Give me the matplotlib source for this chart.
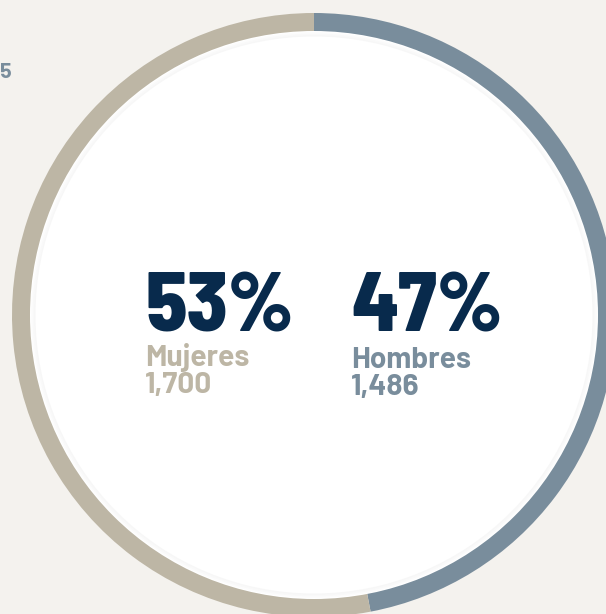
import matplotlib
matplotlib.use("Agg")
import matplotlib.pyplot as plt
from matplotlib.patches import Circle

_BG     = "#f4f2ee"
_TAN    = "#bdb6a5"
_SLATE  = "#798d9c"
_NAVY   = "#082a4c"

labels = ["Hombres", "Mujeres"]
shares = [47, 53]
counts = ["1,486", "1,700"]
colors = [_SLATE, _TAN]

W, H = 606, 614
cx, cy = 314, H - 315
r_out, ring = 302, 19

BIG_FONT = ["Barlow Semi Condensed", "Roboto", "DejaVu Sans"]
SMALL_FONT = ["Barlow", "Roboto", "DejaVu Sans"]

fig = plt.figure(figsize=(W / 100, H / 100), dpi=100, facecolor=_BG)
ax = fig.add_axes([0, 0, 1, 1])
ax.set_facecolor(_BG)

ax.pie(shares, colors=colors, startangle=90, counterclock=False,
       center=(cx, cy), radius=r_out, frame=True,
       wedgeprops=dict(width=ring, edgecolor="none"))

# very soft inner shadow, then the white face
r_in = r_out - ring
ax.add_patch(Circle((cx, cy), r_in + 1, color="white", lw=0, zorder=2))
for k, a in [(0, 0.012), (1.5, 0.010), (3, 0.008)]:
    ax.add_patch(Circle((cx, cy), r_in - k, color="#000000", alpha=a, lw=0, zorder=2))
ax.add_patch(Circle((cx, cy), r_in - 4.5, color="white", lw=0, zorder=3))

ax.set_xlim(0, W)
ax.set_ylim(0, H)
ax.set_aspect("equal")
ax.axis("off")

big = dict(family=BIG_FONT, weight=800, color=_NAVY,
           fontsize=60, va="baseline", ha="left", zorder=5)
small = dict(family=SMALL_FONT, weight="bold", fontsize=21.5,
             va="baseline", ha="left", zorder=5)

pos = {"Mujeres": (145, 0), "Hombres": (351, 2)}
for lab, pct, cnt, col in zip(labels, shares, counts, colors):
    x, dy = pos[lab]
    ax.text(x, H - 331, f"{pct}%", **big)
    ax.text(x, H - 366 - dy, lab, color=col, **small)
    ax.text(x, H - 393 - dy, cnt, color=col, **small)

ax.text(-1, H - 78, "5", color=_SLATE, family=SMALL_FONT,
        weight="bold", fontsize=15.5, va="baseline", ha="left")

fig.savefig("out.png", dpi=100, facecolor=_BG)
